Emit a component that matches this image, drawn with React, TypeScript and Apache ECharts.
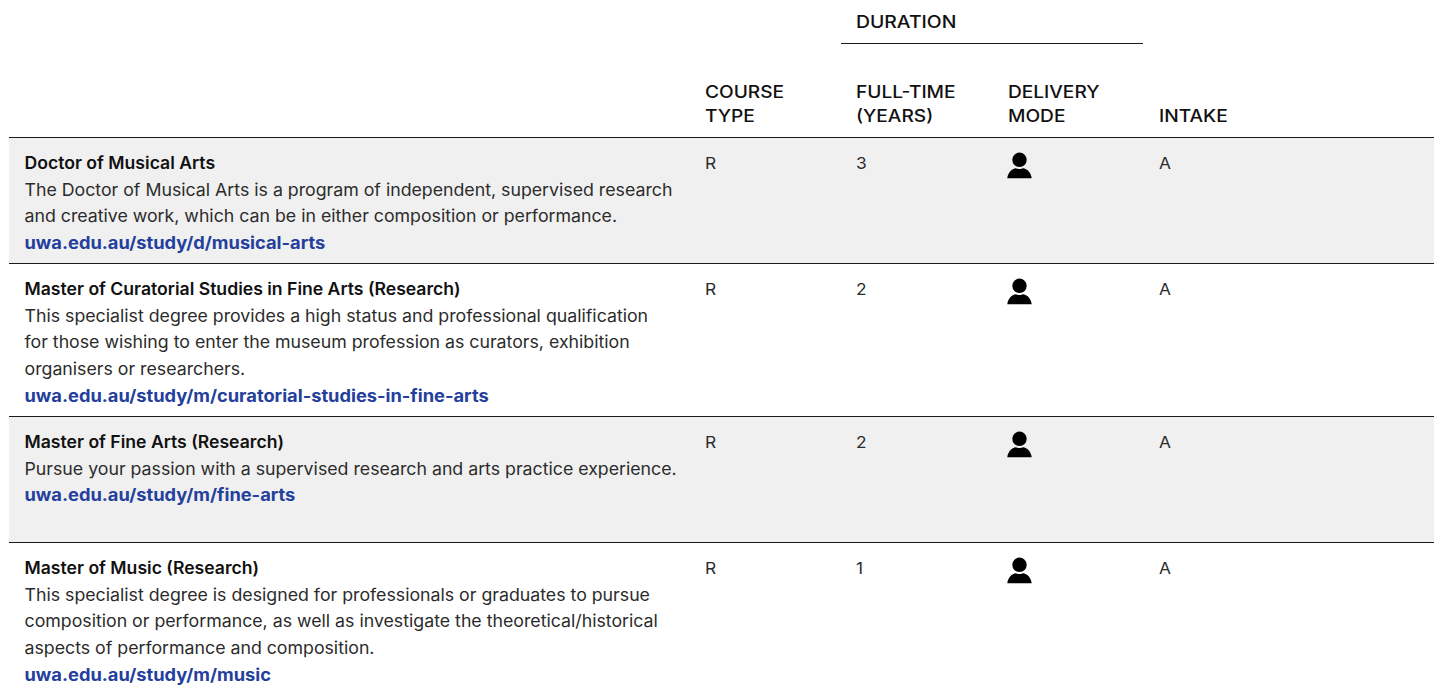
import React, { useEffect, useRef } from "react";
import * as echarts from "echarts";

const FONT = "Inter";

const courseTitles = [
  "Doctor of Musical Arts",
  "Master of Curatorial Studies in Fine Arts (Research)",
  "Master of Fine Arts (Research)",
  "Master of Music (Research)",
];
const courseDescriptions = [
  [
    "The Doctor of Musical Arts is a program of independent, supervised research",
    "and creative work, which can be in either composition or performance.",
  ],
  [
    "This specialist degree provides a high status and professional qualification",
    "for those wishing to enter the museum profession as curators, exhibition",
    "organisers or researchers.",
  ],
  ["Pursue your passion with a supervised research and arts practice experience."],
  [
    "This specialist degree is designed for professionals or graduates to pursue",
    "composition or performance, as well as investigate the theoretical/historical",
    "aspects of performance and composition.",
  ],
];
const courseLinks = [
  "uwa.edu.au/study/d/musical-arts",
  "uwa.edu.au/study/m/curatorial-studies-in-fine-arts",
  "uwa.edu.au/study/m/fine-arts",
  "uwa.edu.au/study/m/music",
];
const courseTypes = ["R", "R", "R", "R"];
const fullTimeYears = ["3", "2", "2", "1"];
const intakes = ["A", "A", "A", "A"];
const headerColumns = [
  { x: 705, lines: ["COURSE", "TYPE"] },
  { x: 856, lines: ["FULL-TIME", "(YEARS)"] },
  { x: 1008, lines: ["DELIVERY", "MODE"] },
  { x: 1159, lines: ["INTAKE"] },
];
const rowTops = [138, 264, 417, 543];
const rowBottoms = [264, 417, 543, 689];

const PERSON =
  "M12.5 0a7.2 7.2 0 1 1 0 14.4a7.2 7.2 0 1 1 0-14.4Z M0.3 25.6C0.8 20 5 16 9 15.6C10.5 16.6 14.5 16.6 16 15.6C20 16 24.2 20 24.7 25.6Z";
echarts.graphic.registerShape("person", echarts.graphic.extendPath(PERSON as any, {} as any) as any);

function text(x: number, y: number, t: string, fontSize: number, fontWeight: any, fill: string, scaleX = 1) {
  return {
    type: "text",
    x,
    y,
    scaleX,
    silent: true,
    style: { text: t, fontFamily: FONT, fontSize, fontWeight, fill, verticalAlign: "middle" },
  };
}
function hline(x1: number, x2: number, y: number, color: string) {
  return { type: "line", silent: true, shape: { x1, y1: y, x2, y2: y }, style: { stroke: color, lineWidth: 1 } };
}

function buildElements() {
  const els: any[] = [];
  rowTops.forEach((top, i) => {
    if (i % 2 === 0) {
      els.push({
        type: "rect",
        silent: true,
        shape: { x: 9, y: top, width: 1425, height: rowBottoms[i] - top },
        style: { fill: "#f0f0f0" },
      });
    }
  });
  els.push(hline(841, 1143, 43.5, "#1a1a1a"));
  rowTops.forEach((top) => els.push(hline(9, 1434, top - 0.5, "#1a1a1a")));

  els.push(text(856, 21, "DURATION", 17, 500, "#111111", 1.14));
  headerColumns.forEach((c) => {
    const start = c.lines.length === 2 ? 91.6 : 115.6;
    c.lines.forEach((l, k) => els.push(text(c.x, start + k * 24, l, 17, 500, "#111111", 1.125)));
  });

  rowTops.forEach((top, i) => {
    const cy = top + 24.7;
    els.push(text(24.5, cy, courseTitles[i], 17, 600, "#111111", 1.036));
    courseDescriptions[i].forEach((l, k) => {
      els.push(text(24.5, cy + 26.7 * (k + 1), l, 17, 400, "#2b2b2b", 1.044));
    });
    const linkY = cy + 26.7 * (courseDescriptions[i].length + 1);
    els.push(text(24.5, linkY, courseLinks[i], 17, 700, "#24409c", 1.075));
    els.push(text(705, cy, courseTypes[i], 16.5, 400, "#2b2b2b", 1.05));
    els.push(text(856, cy, fullTimeYears[i], 16.5, 400, "#2b2b2b", 1.05));
    els.push(text(1159, cy, intakes[i], 16.5, 400, "#2b2b2b", 1.05));
    els.push({
      type: "person",
      silent: true,
      x: 1007,
      y: top + 14.6,
      style: { fill: "#000000" },
    });
  });
  return els;
}

export default function App() {
  const ref = useRef<HTMLDivElement>(null);
  useEffect(() => {
    document.body.style.margin = "0";
    const chart = echarts.init(ref.current!, undefined, { renderer: "svg" });
    chart.setOption({
      animation: false,
      backgroundColor: "#ffffff",
      graphic: { elements: buildElements() },
    });
    return () => chart.dispose();
  }, []);
  return <div ref={ref} style={{ position: "absolute", left: 0, top: 0, width: 1434, height: 689 }} />;
}
